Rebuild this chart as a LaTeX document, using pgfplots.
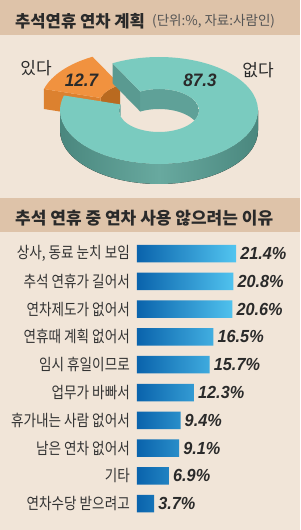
\documentclass[border=0pt]{standalone}
\usepackage{fontspec}
\usepackage{pgfplots}
\usepackage{pgfplotstable}
\pgfplotsset{compat=1.18}
\newfontfamily\kr{Noto Sans CJK KR}
\newfontfamily\krc[FakeStretch=0.85]{Noto Sans CJK KR}
\newfontfamily\numf[FakeStretch=0.93]{Liberation Sans}
\newfontfamily\numd[FakeStretch=0.95]{Liberation Sans}

\definecolor{bg}{HTML}{F1E5D8}
\definecolor{band}{HTML}{DEC3A9}
\definecolor{ttl}{HTML}{2A2A2A}
\definecolor{sub}{HTML}{555555}
\definecolor{lab}{HTML}{333333}
\definecolor{tTop}{HTML}{7ACBBF}
\definecolor{tSideD}{HTML}{4A877E}
\definecolor{tSideL}{HTML}{68A99F}
\definecolor{tCut}{HTML}{5A9A91}
\definecolor{tWall}{HTML}{5FA198}
\definecolor{oTop}{HTML}{F1923F}
\definecolor{oSide}{HTML}{DC812F}
\definecolor{oWall}{HTML}{B96A20}
\definecolor{bL}{HTML}{0A63AC}
\definecolor{bR}{HTML}{52C5F0}

% pie data (percent)
\def\vyes{12.7}
\def\vno{87.3}

\pgfplotstableread{
idx val
0 21.4
1 20.8
2 20.6
3 16.5
4 15.7
5 12.3
6 9.4
7 9.1
8 6.9
9 3.7
}\reasons

\newcommand\mkpt[7]{%
 \pgfmathsetmacro#1{\dcx+(#3)+(#5)*cos(#7)}%
 \pgfmathsetmacro#2{\dcy+(#4)+(#6)*sin(#7)}}

\begin{document}
\begin{tikzpicture}[x=1pt,y=1pt]
\path[use as bounding box] (0,0) rectangle (300,-530);
\fill[bg] (0,0) rectangle (300,-530);
\fill[band] (0,0) rectangle (300,-35);
\fill[band] (0,-198) rectangle (300,-232);

% donut geometry
\def\dcx{159}\def\dcy{-110.5}\def\dR{99}\def\dRy{53.5}\def\dr{40}\def\dry{21.5}\def\dh{20}
\pgfmathsetmacro\aS{118}
\pgfmathsetmacro\aE{\aS+3.6*\vyes}
\pgfmathsetmacro\aSS{\aS+360}
% orange (exploded)
\mkpt\oAx\oAy{-20}{6.5}{\dR}{\dRy}{\aS}
\mkpt\oBx\oBy{-20}{6.5}{\dR}{\dRy}{\aE}
\mkpt\oCx\oCy{-20}{6.5}{\dr}{\dry}{\aS}
\mkpt\oDx\oDy{-20}{6.5}{\dr}{\dry}{\aE}
\pgfmathsetmacro\oByb{\oBy-\dh}
% teal
\mkpt\tAx\tAy{0}{0}{\dR}{\dRy}{\aE}
\mkpt\tBx\tBy{0}{0}{\dr}{\dry}{\aS}
\mkpt\tCx\tCy{0}{0}{\dR}{\dRy}{\aS}
\mkpt\tDx\tDy{0}{0}{\dr}{\dry}{0}
\mkpt\tEx\tEy{0}{0}{\dr}{\dry}{\aE}
\mkpt\tFx\tFy{0}{0}{\dR}{\dRy}{180}
\pgfmathsetmacro\tCyb{\tCy-\dh}

\begin{axis}[at={(0pt,0pt)}, anchor=north west, scale only axis,
  width=300pt, height=530pt, xmin=0, xmax=300, ymin=-530, ymax=0,
  enlargelimits=false, hide axis, clip=false]
 % orange slice
 \fill[oWall] (axis cs:\oCx,\oCy) arc[start angle=\aS, end angle=\aE, x radius=\dr pt, y radius=\dry pt]
   -- ++(0pt,-\dh pt) arc[start angle=\aE, end angle=\aS, x radius=\dr pt, y radius=\dry pt] -- cycle;
 \fill[oSide] (axis cs:\oBx,\oBy) -- (axis cs:\oDx,\oDy) -- ++(0pt,-\dh pt) -- (axis cs:\oBx,\oByb) -- cycle;
 \fill[oTop] (axis cs:\oAx,\oAy) arc[start angle=\aS, end angle=\aE, x radius=\dR pt, y radius=\dRy pt]
   -- (axis cs:\oDx,\oDy) arc[start angle=\aE, end angle=\aS, x radius=\dr pt, y radius=\dry pt] -- cycle;
 % teal: hole walls
 \begin{scope}
  \clip (axis cs:\dcx,\dcy) ellipse[x radius=\dr pt, y radius=\dry pt];
  \fill[tWall] (axis cs:\tDx,\tDy) arc[start angle=0, end angle=\aS, x radius=\dr pt, y radius=\dry pt]
    -- ++(0pt,-\dh pt) arc[start angle=\aS, end angle=0, x radius=\dr pt, y radius=\dry pt] -- cycle;
  \fill[tWall] (axis cs:\tEx,\tEy) arc[start angle=\aE, end angle=180, x radius=\dr pt, y radius=\dry pt]
    -- ++(0pt,-\dh pt) arc[start angle=180, end angle=\aE, x radius=\dr pt, y radius=\dry pt] -- cycle;
 \end{scope}
 % teal outer side
 \fill[left color=tSideD, right color=tSideD, middle color=tSideL]
   (axis cs:\tFx,\tFy) arc[start angle=180, end angle=360, x radius=\dR pt, y radius=\dRy pt]
   -- ++(0pt,-\dh pt) arc[start angle=360, end angle=180, x radius=\dR pt, y radius=\dRy pt] -- cycle;
 % teal cut face
 \fill[tCut] (axis cs:\tCx,\tCy) -- (axis cs:\tBx,\tBy) -- ++(0pt,-\dh pt) -- (axis cs:\tCx,\tCyb) -- cycle;
 % teal top
 \fill[tTop] (axis cs:\tAx,\tAy) arc[start angle=\aE, end angle=\aSS, x radius=\dR pt, y radius=\dRy pt]
   -- (axis cs:\tBx,\tBy) arc[start angle=\aSS, end angle=\aE, x radius=\dr pt, y radius=\dry pt] -- cycle;
\end{axis}

\begin{axis}[at={(137pt,-239.6pt)}, anchor=north west, scale only axis,
  width=138.9pt, height=278pt, xmin=0, xmax=30, ymin=-0.5, ymax=9.5,
  y dir=reverse, axis line style={draw=none}, major tick length=0pt,
  xtick=\empty, ytick={0,...,9},
  yticklabels={{상사, 동료 눈치 보임},추석 연휴가 길어서,연차제도가 없어서,연휴때 계획 없어서,임시 휴일이므로,업무가 바빠서,휴가내는 사람 없어서,남은 연차 없어서,기타,연차수당 받으려고},
  yticklabel style={font=\krc\fontsize{16}{18}\selectfont, text=lab, inner sep=0pt, xshift=-7pt},
  clip=false, /pgf/number format/assume math mode=true]
 \addplot[xbar, bar width=17.5pt, draw=none, left color=bL, right color=bR,
   point meta=x,
   nodes near coords={\pgfmathprintnumber[fixed,fixed zerofill,precision=1]{\pgfplotspointmeta}\%},
   every node near coord/.append style={font=\numf\bfseries\itshape\fontsize{17.5}{18}\selectfont, text=ttl, anchor=west, inner sep=0pt, xshift=4pt}]
   table[x=val,y=idx]{\reasons};
\end{axis}

\node[font=\kr\bfseries\fontsize{16.6}{20}\selectfont, text=ttl, anchor=west, inner sep=0pt] at (15,-21.5) {추석연휴 연차 계획};
\node[font=\kr\fontsize{13.5}{16}\selectfont, text=sub, anchor=west, inner sep=0pt] at (152,-21.5) {(단위:\%, 자료:사람인)};
\node[font=\kr\bfseries\fontsize{17}{20}\selectfont, text=ttl, anchor=west, inner sep=0pt] at (15,-218.5) {추석 연휴 중 연차 사용 않으려는 이유};
\node[font=\kr\fontsize{17}{20}\selectfont, text=ttl] at (36,-68) {있다};
\node[font=\kr\fontsize{17}{20}\selectfont, text=ttl] at (258,-70) {없다};
\node[font=\numd\bfseries\itshape\fontsize{18}{20}\selectfont, text=ttl] at (81.5,-80) {\vyes};
\node[font=\numd\bfseries\itshape\fontsize{18}{20}\selectfont, text=ttl] at (200,-80) {\vno};
\end{tikzpicture}
\end{document}
